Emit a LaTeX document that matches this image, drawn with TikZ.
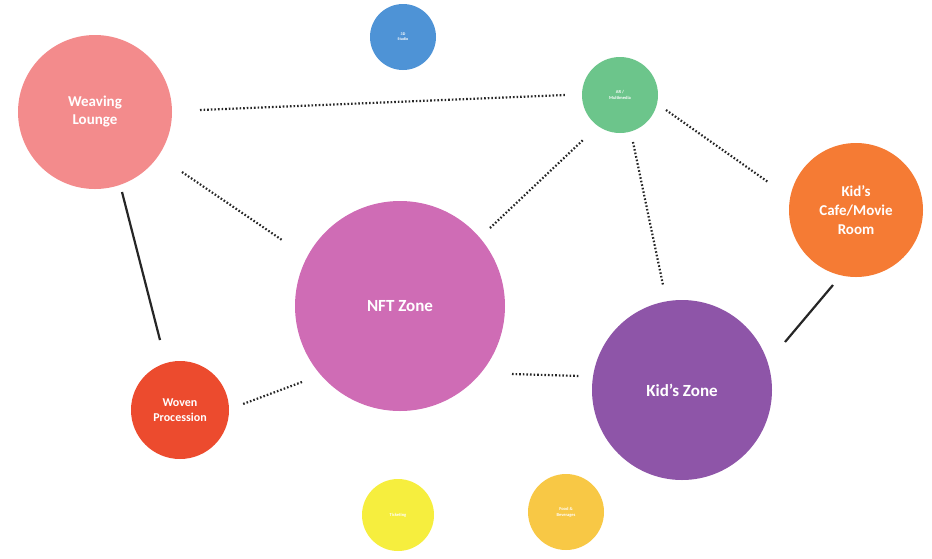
\documentclass[tikz,border=0pt]{standalone}
\usepackage{fontspec}
\setmainfont{Carlito}
\definecolor{cpink}{HTML}{F38B8C}
\definecolor{cblue}{HTML}{4E93D6}
\definecolor{cgreen}{HTML}{6CC58B}
\definecolor{corange}{HTML}{F57B34}
\definecolor{cmag}{HTML}{CF6CB5}
\definecolor{cpurple}{HTML}{8E55A8}
\definecolor{cred}{HTML}{EC4B2E}
\definecolor{cyellow}{HTML}{F6EE3E}
\definecolor{cgold}{HTML}{F8C845}
\begin{document}
\begin{tikzpicture}[x=1pt,y=-1pt,
  zone/.style={circle,inner sep=0pt,text=white,font=\bfseries,align=center},
  dotlink/.style={line width=2.2pt,dash pattern=on 1.6pt off 2pt,draw=black!85},
  solidlink/.style={line width=2.2pt,draw=black!85}]
\useasboundingbox (0,0) rectangle (932,558);
\node[zone,fill=cpink,minimum size=154pt,font=\bfseries\fontsize{15}{18}\selectfont] (wl) at (95,112) {Weaving\\Lounge};
\node[zone,fill=cblue,minimum size=66pt,font=\bfseries\fontsize{4}{5}\selectfont] (st) at (403,37) {3D\\Studio};
\node[zone,fill=cgreen,minimum size=76pt,font=\bfseries\fontsize{4.5}{6}\selectfont] (ar) at (620,95) {AR /\\Multimedia};
\node[zone,fill=corange,minimum size=134pt,font=\bfseries\fontsize{15}{19}\selectfont] (kc) at (856,210) {Kid's\\Cafe/Movie\\Room};
\node[zone,fill=cmag,minimum size=210pt,font=\bfseries\fontsize{17}{20}\selectfont] (nft) at (400,306) {NFT Zone};
\node[zone,fill=cpurple,minimum size=180pt,font=\bfseries\fontsize{17}{20}\selectfont] (kz) at (682,390) {Kid's Zone};
\node[zone,fill=cred,minimum size=98pt,font=\bfseries\fontsize{12}{15}\selectfont] (wp) at (180,410) {Woven\\Procession};
\node[zone,fill=cyellow,minimum size=72pt,font=\bfseries\fontsize{4.5}{6}\selectfont] (tk) at (398,515) {Ticketing};
\node[zone,fill=cgold,minimum size=76pt,font=\bfseries\fontsize{4.5}{6}\selectfont] (fb) at (566,512) {Food \&\\Beverages};
\draw[dotlink] ([shift={(105,-2)}]wl.center) -- ([shift={(-55,0)}]ar.center);
\draw[dotlink] ([shift={(87,60)}]wl.center) -- ([shift={(-118,-66)}]nft.center);
\draw[solidlink] ([shift={(27,80)}]wl.center) -- ([shift={(-20,-70)}]wp.center);
\draw[dotlink] ([shift={(-98,76)}]nft.center) -- ([shift={(63,-6)}]wp.center);
\draw[dotlink] ([shift={(90,-78)}]nft.center) -- ([shift={(-37,45)}]ar.center);
\draw[dotlink] ([shift={(112,68)}]nft.center) -- ([shift={(-102,-14)}]kz.center);
\draw[dotlink] ([shift={(13,47)}]ar.center) -- ([shift={(-19,-105)}]kz.center);
\draw[dotlink] ([shift={(46,15)}]ar.center) -- ([shift={(-88,-28)}]kc.center);
\draw[solidlink] ([shift={(103,-48)}]kz.center) -- ([shift={(-23,75)}]kc.center);
\end{tikzpicture}
\end{document}
